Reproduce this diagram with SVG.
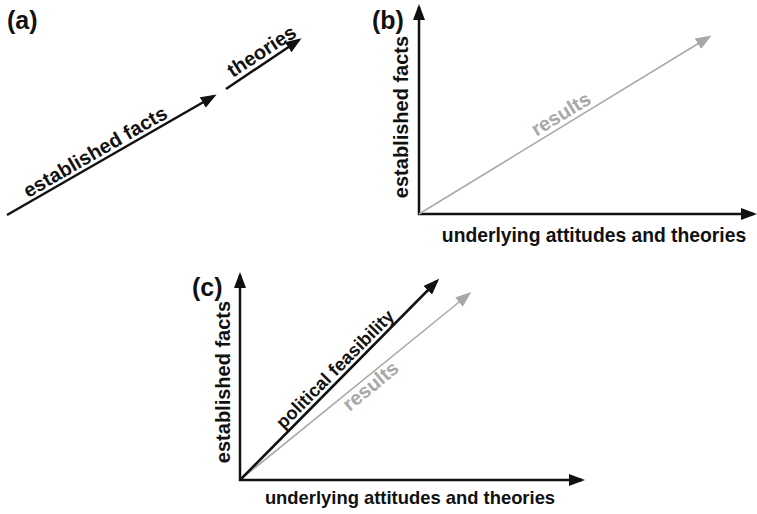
<svg xmlns="http://www.w3.org/2000/svg" width="757" height="514" viewBox="0 0 757 514">
<style>
text{font-family:"Liberation Sans",Arial,sans-serif;font-weight:bold;}
.lbl{font-size:20px;fill:#111;}
.panel{font-size:25px;fill:#111;}
.gray{fill:#a8a8a8;}
.blk{stroke:#111;stroke-width:2.5;fill:none;}
.gry{stroke:#aaaaaa;stroke-width:1.6;fill:none;}
</style>
<defs>
<marker id="ah" viewBox="0 0 16 12" refX="13" refY="6" markerWidth="16" markerHeight="12" markerUnits="userSpaceOnUse" orient="auto-start-reverse">
<path d="M0,0 L16,6 L0,12 z" fill="#111"/>
</marker>
<marker id="ahg" viewBox="0 0 16 12" refX="13" refY="6" markerWidth="16" markerHeight="12" markerUnits="userSpaceOnUse" orient="auto">
<path d="M0,0 L16,6 L0,12 z" fill="#a8a8a8"/>
</marker>
</defs>
<g id="panel-a">
<text class="panel" x="7" y="29">(a)</text>
<text class="lbl" transform="translate(101,162) rotate(-30)" y="-5" text-anchor="middle">established facts</text>
<text class="lbl" transform="translate(268,61) rotate(-33)" y="-5" text-anchor="middle">theories</text>
</g>
<g id="panel-b">
<text class="panel" x="372" y="29">(b)</text>
<text class="lbl" transform="translate(408,117) rotate(-90)" text-anchor="middle">established facts</text>
<text class="lbl" x="594" y="242" text-anchor="middle" style="font-size:19.3px">underlying attitudes and theories</text>
<text class="lbl gray" transform="translate(567,124) rotate(-31.4)" y="-5" text-anchor="middle">results</text>
</g>
<g id="panel-c">
<text class="panel" x="192" y="296">(c)</text>
<text class="lbl" transform="translate(230,382) rotate(-90)" text-anchor="middle">established facts</text>
<text class="lbl" x="410" y="504" text-anchor="middle" style="font-size:18.4px">underlying attitudes and theories</text>
<text class="lbl" transform="translate(343,377) rotate(-45.2)" y="-5" text-anchor="middle" style="font-size:18.3px">political feasibility</text>
<text class="lbl gray" transform="translate(364,378) rotate(-39.3)" y="17" text-anchor="middle">results</text>
</g>
<g id="connectors">
<line class="blk" x1="7" y1="215" x2="214" y2="96" marker-end="url(#ah)"/>
<line class="blk" x1="226" y1="89" x2="299" y2="40" marker-end="url(#ah)"/>
<path class="blk" d="M419,7 L419,214 L754,214" marker-start="url(#ah)" marker-end="url(#ah)"/>
<line class="gry" x1="419" y1="214" x2="709" y2="37" marker-end="url(#ahg)"/>
<path class="blk" d="M240,275 L240,480 L582,480" marker-start="url(#ah)" marker-end="url(#ah)"/>
<line class="gry" x1="240" y1="480" x2="469" y2="294" marker-end="url(#ahg)"/>
<line class="blk" x1="240" y1="480" x2="437" y2="281" marker-end="url(#ah)"/>
</g>
</svg>
